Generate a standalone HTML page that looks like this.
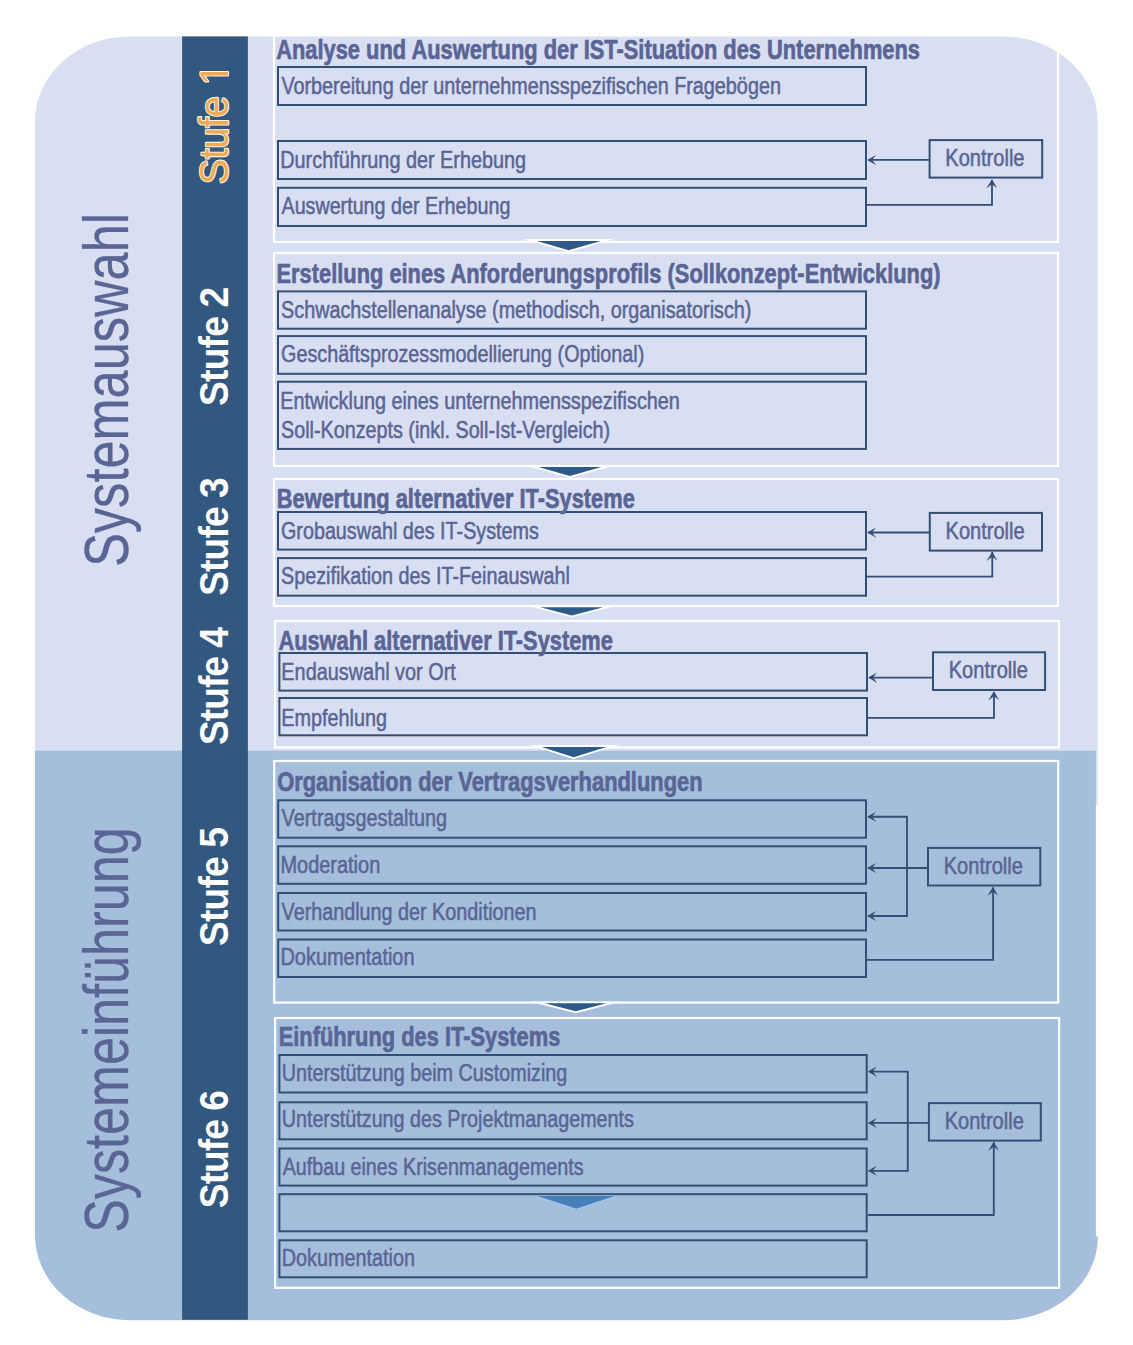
<!DOCTYPE html>
<html><head><meta charset="utf-8"><title>Systemauswahl und Systemeinführung</title>
<style>
html,body{margin:0;padding:0;background:#fff;}
body{width:1133px;height:1345px;overflow:hidden;}
svg{display:block;font-family:"Liberation Sans",sans-serif;}
</style></head>
<body>
<svg width="1133" height="1345" viewBox="0 0 1133 1345">
<path d="M35,805 L35,121.4 A95,85 0 0 1 130,36.4 L1002.6,36.4 A95,85 0 0 1 1097.6,121.4 L1097.6,805 Z" fill="#D9DFF2"/>
<path d="M35,750.8 L1095.9,750.8 L1095.9,1236.5 L1097.9,1236.5 A95,83.7 0 0 1 1002.9,1320.2 L130,1320.2 A95,85 0 0 1 35,1235.2 Z" fill="#A4BEDC"/>
<rect x="182.1" y="36.4" width="65.8" height="1283.4" fill="#325880"/>
<text transform="translate(128.0,566.84) rotate(-90) scale(0.8150,1)" font-size="62" font-weight="400" fill="#5A6595" stroke="#5A6595" stroke-width="0.3" stroke-linejoin="round">Systemauswahl</text>
<text transform="translate(128.0,1232.73) rotate(-90) scale(0.8114,1)" font-size="62" font-weight="400" fill="#5A6595" stroke="#5A6595" stroke-width="0.3" stroke-linejoin="round">Systemeinführung</text>
<text transform="translate(228.2,405.93) rotate(-90) scale(0.93,1)" font-size="40" font-weight="700" fill="#FFFFFF" letter-spacing="-0.85">Stufe 2</text>
<text transform="translate(228.2,595.83) rotate(-90) scale(0.93,1)" font-size="40" font-weight="700" fill="#FFFFFF" letter-spacing="-0.96">Stufe 3</text>
<text transform="translate(228.2,744.93) rotate(-90) scale(0.93,1)" font-size="40" font-weight="700" fill="#FFFFFF" letter-spacing="-1.09">Stufe 4</text>
<text transform="translate(228.2,945.93) rotate(-90) scale(0.93,1)" font-size="40" font-weight="700" fill="#FFFFFF" letter-spacing="-0.92">Stufe 5</text>
<text transform="translate(228.2,1208.13) rotate(-90) scale(0.93,1)" font-size="40" font-weight="700" fill="#FFFFFF" letter-spacing="-1.04">Stufe 6</text>
<g fill="#EFAA55" stroke="#FFF3DE" stroke-width="2.2" paint-order="stroke" stroke-linejoin="round"><text transform="translate(228.0,184.30) rotate(-90) scale(0.95,1)" font-size="40" font-weight="400" letter-spacing="-0.16">Stufe</text><path transform="translate(228.0,85.01) rotate(-90) scale(0.01855,-0.01953)" stroke-width="112.6" d="M515,0 L696,0 L696,1409 L530,1409 L197,1180 L197,1010 L515,1237 Z"/></g>
<rect x="274" y="20" width="784.00" height="221.90" fill="none" stroke="#FFFFFF" stroke-width="2.2"/>
<rect x="274" y="253" width="784.00" height="213.00" fill="none" stroke="#FFFFFF" stroke-width="2.2"/>
<rect x="274" y="479" width="784.00" height="127.00" fill="none" stroke="#FFFFFF" stroke-width="2.2"/>
<rect x="275" y="621" width="784.00" height="126.50" fill="none" stroke="#FFFFFF" stroke-width="2.2"/>
<rect x="274.2" y="761" width="784.00" height="241.60" fill="none" stroke="#FFFFFF" stroke-width="2.2"/>
<rect x="275.1" y="1018" width="784.00" height="269.80" fill="none" stroke="#FFFFFF" stroke-width="2.2"/>
<polygon points="536.8,240.9 600.9,240.9 568.6,250.3" fill="#2E5A88" stroke="#FFFFFF" stroke-width="3.8" stroke-linejoin="miter" stroke-miterlimit="30" paint-order="stroke"/>
<polygon points="538.3,467.1 601.4,467.1 569.9,476.0" fill="#2E5A88" stroke="#FFFFFF" stroke-width="3.8" stroke-linejoin="miter" stroke-miterlimit="30" paint-order="stroke"/>
<polygon points="540.2,607.2 603.3,607.2 571.8,615.5" fill="#2E5A88" stroke="#FFFFFF" stroke-width="3.8" stroke-linejoin="miter" stroke-miterlimit="30" paint-order="stroke"/>
<polygon points="541.7,747.0 606.3,747.0 573.7,757.3" fill="#2E5A88" stroke="#FFFFFF" stroke-width="3.8" stroke-linejoin="miter" stroke-miterlimit="30" paint-order="stroke"/>
<polygon points="544.6,1003.3 606.7,1003.3 575.7,1011.3" fill="#2E5A88" stroke="#FFFFFF" stroke-width="3.8" stroke-linejoin="miter" stroke-miterlimit="30" paint-order="stroke"/>
<polygon points="537.2,1196.1 614.9,1196.1 576.2,1208.7" fill="#4780BA" stroke="#B4CCEA" stroke-width="1.2" paint-order="stroke" stroke-linejoin="round"/>
<rect x="278" y="67" width="588.00" height="38.00" fill="none" stroke="#354F74" stroke-width="2"/>
<rect x="278" y="141" width="588.00" height="38.00" fill="none" stroke="#354F74" stroke-width="2"/>
<rect x="278" y="187.8" width="588.00" height="38.20" fill="none" stroke="#354F74" stroke-width="2"/>
<rect x="278" y="291.4" width="588.00" height="37.30" fill="none" stroke="#354F74" stroke-width="2"/>
<rect x="278" y="336.1" width="588.00" height="37.70" fill="none" stroke="#354F74" stroke-width="2"/>
<rect x="278" y="381.7" width="588.00" height="67.20" fill="none" stroke="#354F74" stroke-width="2"/>
<rect x="278" y="512" width="588.00" height="37.60" fill="none" stroke="#354F74" stroke-width="2"/>
<rect x="278" y="558.1" width="588.00" height="37.60" fill="none" stroke="#354F74" stroke-width="2"/>
<rect x="279.4" y="653" width="587.60" height="37.60" fill="none" stroke="#354F74" stroke-width="2"/>
<rect x="279.4" y="698" width="587.60" height="37.30" fill="none" stroke="#354F74" stroke-width="2"/>
<rect x="278.2" y="800.3" width="587.80" height="37.40" fill="none" stroke="#354F74" stroke-width="2"/>
<rect x="278.2" y="846.3" width="587.80" height="37.50" fill="none" stroke="#354F74" stroke-width="2"/>
<rect x="278.2" y="893" width="587.80" height="37.50" fill="none" stroke="#354F74" stroke-width="2"/>
<rect x="278.2" y="939.5" width="587.80" height="37.50" fill="none" stroke="#354F74" stroke-width="2"/>
<rect x="279.4" y="1055" width="587.30" height="37.50" fill="none" stroke="#354F74" stroke-width="2"/>
<rect x="279.4" y="1102.3" width="587.30" height="37.00" fill="none" stroke="#354F74" stroke-width="2"/>
<rect x="279.4" y="1148.5" width="587.30" height="37.10" fill="none" stroke="#354F74" stroke-width="2"/>
<rect x="279.4" y="1194.2" width="587.30" height="37.10" fill="none" stroke="#354F74" stroke-width="2"/>
<rect x="279.4" y="1240.3" width="587.30" height="37.00" fill="none" stroke="#354F74" stroke-width="2"/>
<text transform="translate(276.23,58.9) scale(0.7726,1)" font-size="28.3" font-weight="700" fill="#5A6595" stroke="#5A6595" stroke-width="0.7" stroke-linejoin="round">Analyse und Auswertung der IST-Situation des Unternehmens</text>
<text transform="translate(281.40,93.7) scale(0.8147,1)" font-size="24.3" font-weight="400" fill="#5A6595" stroke="#5A6595" stroke-width="0.55" stroke-linejoin="round">Vorbereitung der unternehmensspezifischen Fragebögen</text>
<text transform="translate(280.27,167.9) scale(0.8164,1)" font-size="24.3" font-weight="400" fill="#5A6595" stroke="#5A6595" stroke-width="0.55" stroke-linejoin="round">Durchführung der Erhebung</text>
<text transform="translate(281.50,213.8) scale(0.8110,1)" font-size="24.3" font-weight="400" fill="#5A6595" stroke="#5A6595" stroke-width="0.55" stroke-linejoin="round">Auswertung der Erhebung</text>
<text transform="translate(276.56,282.6) scale(0.7719,1)" font-size="28.3" font-weight="700" fill="#5A6595" stroke="#5A6595" stroke-width="0.7" stroke-linejoin="round">Erstellung eines Anforderungsprofils (Sollkonzept-Entwicklung)</text>
<text transform="translate(281.09,317.9) scale(0.8141,1)" font-size="24.3" font-weight="400" fill="#5A6595" stroke="#5A6595" stroke-width="0.55" stroke-linejoin="round">Schwachstellenanalyse (methodisch, organisatorisch)</text>
<text transform="translate(281.09,361.6) scale(0.8130,1)" font-size="24.3" font-weight="400" fill="#5A6595" stroke="#5A6595" stroke-width="0.55" stroke-linejoin="round">Geschäftsprozessmodellierung (Optional)</text>
<text transform="translate(280.27,408.8) scale(0.8154,1)" font-size="24.3" font-weight="400" fill="#5A6595" stroke="#5A6595" stroke-width="0.55" stroke-linejoin="round">Entwicklung eines unternehmensspezifischen</text>
<text transform="translate(281.09,437.6) scale(0.8127,1)" font-size="24.3" font-weight="400" fill="#5A6595" stroke="#5A6595" stroke-width="0.55" stroke-linejoin="round">Soll-Konzepts (inkl. Soll-Ist-Vergleich)</text>
<text transform="translate(276.76,508.2) scale(0.7722,1)" font-size="28.3" font-weight="700" fill="#5A6595" stroke="#5A6595" stroke-width="0.7" stroke-linejoin="round">Bewertung alternativer IT-Systeme</text>
<text transform="translate(280.99,538.6) scale(0.8133,1)" font-size="24.3" font-weight="400" fill="#5A6595" stroke="#5A6595" stroke-width="0.55" stroke-linejoin="round">Grobauswahl des IT-Systems</text>
<text transform="translate(280.99,583.5) scale(0.8142,1)" font-size="24.3" font-weight="400" fill="#5A6595" stroke="#5A6595" stroke-width="0.55" stroke-linejoin="round">Spezifikation des IT-Feinauswahl</text>
<text transform="translate(278.43,650.0) scale(0.7706,1)" font-size="28.3" font-weight="700" fill="#5A6595" stroke="#5A6595" stroke-width="0.7" stroke-linejoin="round">Auswahl alternativer IT-Systeme</text>
<text transform="translate(281.36,679.5) scale(0.8180,1)" font-size="24.3" font-weight="400" fill="#5A6595" stroke="#5A6595" stroke-width="0.55" stroke-linejoin="round">Endauswahl vor Ort</text>
<text transform="translate(281.37,725.5) scale(0.8150,1)" font-size="24.3" font-weight="400" fill="#5A6595" stroke="#5A6595" stroke-width="0.55" stroke-linejoin="round">Empfehlung</text>
<text transform="translate(277.23,790.6) scale(0.7730,1)" font-size="28.3" font-weight="700" fill="#5A6595" stroke="#5A6595" stroke-width="0.7" stroke-linejoin="round">Organisation der Vertragsverhandlungen</text>
<text transform="translate(281.60,825.8) scale(0.8169,1)" font-size="24.3" font-weight="400" fill="#5A6595" stroke="#5A6595" stroke-width="0.55" stroke-linejoin="round">Vertragsgestaltung</text>
<text transform="translate(280.46,872.7) scale(0.8212,1)" font-size="24.3" font-weight="400" fill="#5A6595" stroke="#5A6595" stroke-width="0.55" stroke-linejoin="round">Moderation</text>
<text transform="translate(281.60,919.5) scale(0.8135,1)" font-size="24.3" font-weight="400" fill="#5A6595" stroke="#5A6595" stroke-width="0.55" stroke-linejoin="round">Verhandlung der Konditionen</text>
<text transform="translate(280.46,965.4) scale(0.8206,1)" font-size="24.3" font-weight="400" fill="#5A6595" stroke="#5A6595" stroke-width="0.55" stroke-linejoin="round">Dokumentation</text>
<text transform="translate(278.65,1045.9) scale(0.7727,1)" font-size="28.3" font-weight="700" fill="#5A6595" stroke="#5A6595" stroke-width="0.7" stroke-linejoin="round">Einführung des IT-Systems</text>
<text transform="translate(281.67,1081.2) scale(0.8141,1)" font-size="24.3" font-weight="400" fill="#5A6595" stroke="#5A6595" stroke-width="0.55" stroke-linejoin="round">Unterstützung beim Customizing</text>
<text transform="translate(281.67,1127.3) scale(0.8132,1)" font-size="24.3" font-weight="400" fill="#5A6595" stroke="#5A6595" stroke-width="0.55" stroke-linejoin="round">Unterstützung des Projektmanagements</text>
<text transform="translate(282.70,1174.5) scale(0.8100,1)" font-size="24.3" font-weight="400" fill="#5A6595" stroke="#5A6595" stroke-width="0.55" stroke-linejoin="round">Aufbau eines Krisenmanagements</text>
<text transform="translate(281.67,1265.7) scale(0.8162,1)" font-size="24.3" font-weight="400" fill="#5A6595" stroke="#5A6595" stroke-width="0.55" stroke-linejoin="round">Dokumentation</text>
<rect x="929.6" y="140.1" width="112.60" height="37.50" fill="none" stroke="#354F74" stroke-width="2"/>
<text transform="translate(945.35,165.79999999999998) scale(0.8258,1)" font-size="24.3" font-weight="400" fill="#5A6595" stroke="#5A6595" stroke-width="0.55" stroke-linejoin="round">Kontrolle</text>
<rect x="929.8" y="512.9" width="112.20" height="37.70" fill="none" stroke="#354F74" stroke-width="2"/>
<text transform="translate(945.55,538.6) scale(0.8258,1)" font-size="24.3" font-weight="400" fill="#5A6595" stroke="#5A6595" stroke-width="0.55" stroke-linejoin="round">Kontrolle</text>
<rect x="933" y="652.3" width="112.10" height="37.70" fill="none" stroke="#354F74" stroke-width="2"/>
<text transform="translate(948.75,678.0) scale(0.8258,1)" font-size="24.3" font-weight="400" fill="#5A6595" stroke="#5A6595" stroke-width="0.55" stroke-linejoin="round">Kontrolle</text>
<rect x="928" y="847.9" width="112.30" height="37.60" fill="none" stroke="#354F74" stroke-width="2"/>
<text transform="translate(943.75,873.6) scale(0.8258,1)" font-size="24.3" font-weight="400" fill="#5A6595" stroke="#5A6595" stroke-width="0.55" stroke-linejoin="round">Kontrolle</text>
<rect x="928.9" y="1103.1" width="111.90" height="37.50" fill="none" stroke="#354F74" stroke-width="2"/>
<text transform="translate(944.65,1128.8) scale(0.8258,1)" font-size="24.3" font-weight="400" fill="#5A6595" stroke="#5A6595" stroke-width="0.55" stroke-linejoin="round">Kontrolle</text>
<path d="M929.60,159.90 L868.00,159.90" fill="none" stroke="#354F74" stroke-width="1.85" stroke-linejoin="miter"/>
<polygon points="867.30,159.90 875.90,154.90 872.10,159.90 876.20,165.20" fill="#354F74"/>
<path d="M867.00,204.90 L992.00,204.90 L992.00,180.00" fill="none" stroke="#354F74" stroke-width="1.85" stroke-linejoin="miter"/>
<polygon points="992.00,179.20 997.00,188.00 992.00,184.20 986.20,188.40" fill="#354F74"/>
<path d="M929.80,532.50 L868.00,532.50" fill="none" stroke="#354F74" stroke-width="1.85" stroke-linejoin="miter"/>
<polygon points="867.30,532.50 875.90,527.50 872.10,532.50 876.20,537.80" fill="#354F74"/>
<path d="M867.00,576.60 L992.30,576.60 L992.30,552.00" fill="none" stroke="#354F74" stroke-width="1.85" stroke-linejoin="miter"/>
<polygon points="992.30,551.70 997.30,560.50 992.30,556.70 986.50,560.90" fill="#354F74"/>
<path d="M933.00,677.60 L869.00,677.60" fill="none" stroke="#354F74" stroke-width="1.85" stroke-linejoin="miter"/>
<polygon points="868.30,677.60 876.90,672.60 873.10,677.60 877.20,682.90" fill="#354F74"/>
<path d="M868.00,717.80 L994.00,717.80 L994.00,692.00" fill="none" stroke="#354F74" stroke-width="1.85" stroke-linejoin="miter"/>
<polygon points="994.00,691.20 999.00,700.00 994.00,696.20 988.20,700.40" fill="#354F74"/>
<path d="M868.00,816.70 L907.00,816.70 L907.00,916.00 L868.00,916.00" fill="none" stroke="#354F74" stroke-width="1.85" stroke-linejoin="miter"/>
<polygon points="867.30,816.70 875.90,811.70 872.10,816.70 876.20,822.00" fill="#354F74"/>
<polygon points="867.30,916.00 875.90,911.00 872.10,916.00 876.20,921.30" fill="#354F74"/>
<path d="M928.00,868.00 L868.00,868.00" fill="none" stroke="#354F74" stroke-width="1.85" stroke-linejoin="miter"/>
<polygon points="867.30,868.00 875.90,863.00 872.10,868.00 876.20,873.30" fill="#354F74"/>
<path d="M867.00,959.80 L993.10,959.80 L993.10,887.50" fill="none" stroke="#354F74" stroke-width="1.85" stroke-linejoin="miter"/>
<polygon points="993.10,886.70 998.10,895.50 993.10,891.70 987.30,895.90" fill="#354F74"/>
<path d="M868.70,1071.60 L907.80,1071.60 L907.80,1170.80 L868.70,1170.80" fill="none" stroke="#354F74" stroke-width="1.85" stroke-linejoin="miter"/>
<polygon points="868.00,1071.60 876.60,1066.60 872.80,1071.60 876.90,1076.90" fill="#354F74"/>
<polygon points="868.00,1170.80 876.60,1165.80 872.80,1170.80 876.90,1176.10" fill="#354F74"/>
<path d="M928.90,1122.90 L868.70,1122.90" fill="none" stroke="#354F74" stroke-width="1.85" stroke-linejoin="miter"/>
<polygon points="868.00,1122.90 876.60,1117.90 872.80,1122.90 876.90,1128.20" fill="#354F74"/>
<path d="M867.70,1215.00 L993.80,1215.00 L993.80,1142.60" fill="none" stroke="#354F74" stroke-width="1.85" stroke-linejoin="miter"/>
<polygon points="993.80,1141.80 998.80,1150.60 993.80,1146.80 988.00,1151.00" fill="#354F74"/>
</svg>
</body></html>
